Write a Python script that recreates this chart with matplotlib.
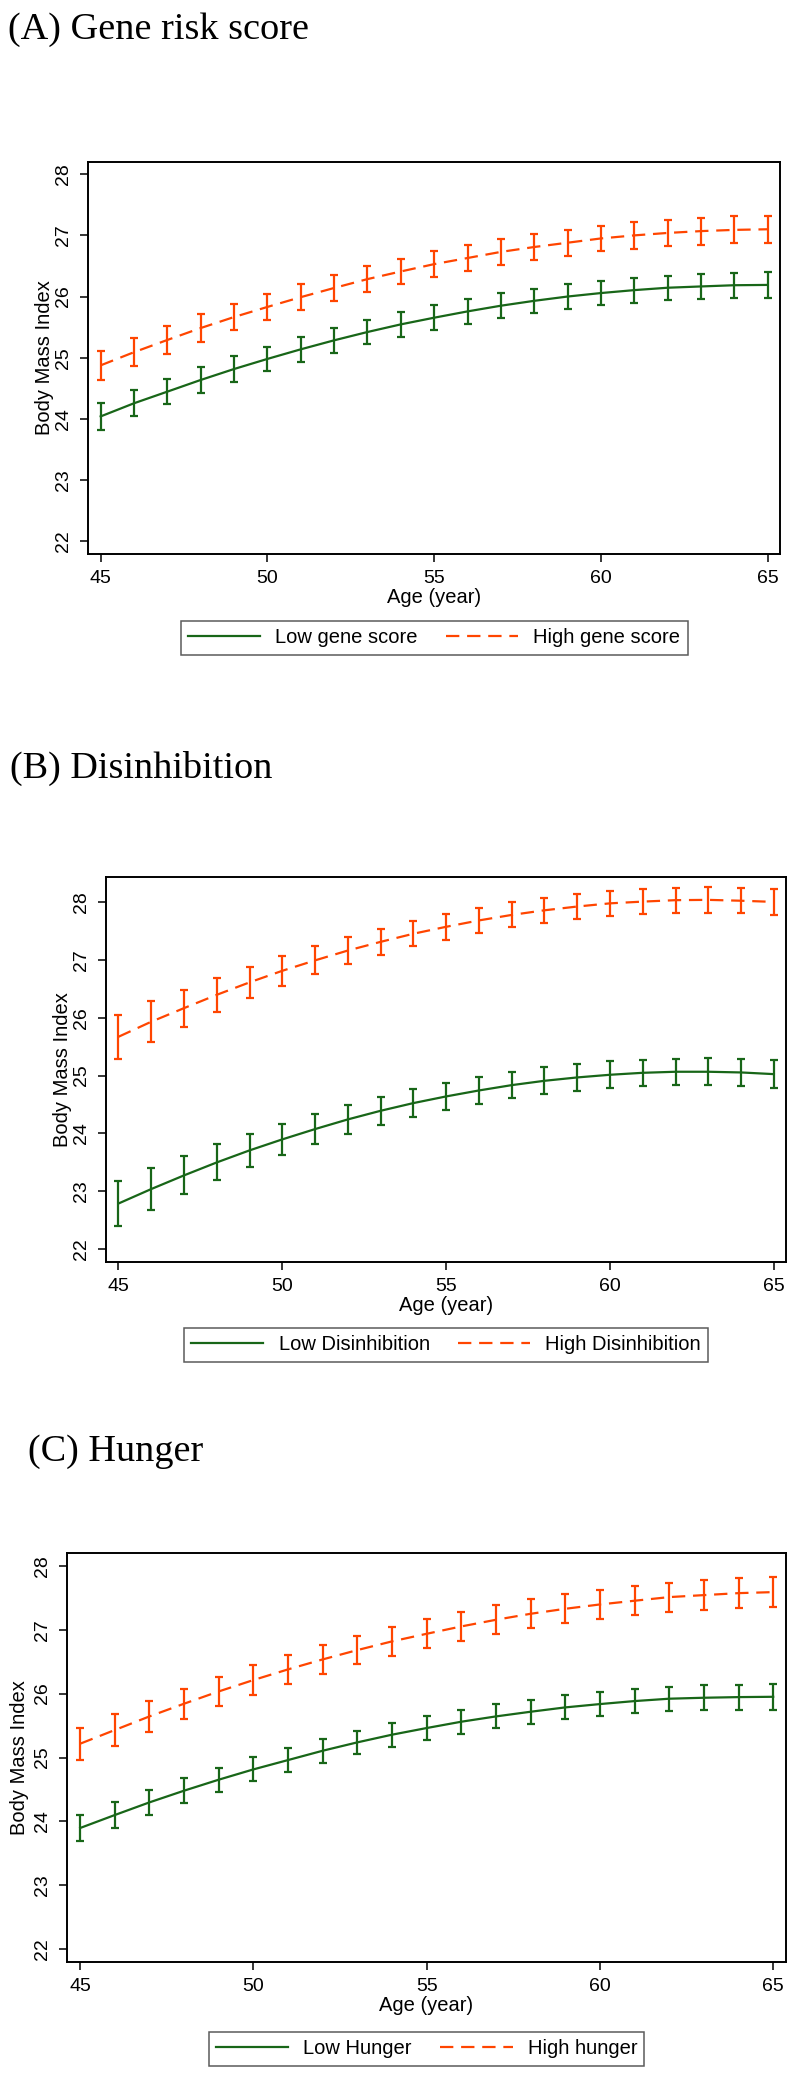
import numpy as np
import matplotlib
matplotlib.use("Agg")
import matplotlib.pyplot as plt

plt.rcParams['font.family'] = ['Liberation Sans', 'DejaVu Sans']

# ages on the x axis
age = np.arange(45, 66)

# (A) Gene risk score: predicted BMI and 95% CI half-width
gene_low = [24.04, 24.255, 24.445, 24.636, 24.815, 24.98, 25.137, 25.284, 25.42, 25.545, 25.654,
            25.757, 25.85, 25.93, 26.0, 26.057, 26.105, 26.144, 26.165, 26.185, 26.19]
gene_low_ci = [0.225, 0.215, 0.21, 0.21, 0.205, 0.2, 0.2, 0.2, 0.2, 0.2, 0.2,
               0.2, 0.2, 0.2, 0.2, 0.2, 0.205, 0.2, 0.2, 0.205, 0.21]
gene_high = [24.875, 25.09, 25.29, 25.485, 25.665, 25.83, 25.99, 26.14, 26.285, 26.41, 26.53,
             26.63, 26.73, 26.81, 26.88, 26.95, 27.0, 27.04, 27.07, 27.09, 27.1]
gene_high_ci = [0.24, 0.23, 0.225, 0.225, 0.22, 0.215, 0.21, 0.21, 0.215, 0.21, 0.215,
                0.21, 0.215, 0.21, 0.21, 0.21, 0.215, 0.215, 0.22, 0.22, 0.225]

# (B) Disinhibition
dis_low = [22.79, 23.04, 23.276, 23.5, 23.708, 23.898, 24.076, 24.243, 24.392, 24.525, 24.64,
           24.743, 24.835, 24.91, 24.968, 25.014, 25.048, 25.066, 25.066, 25.054, 25.025]
dis_low_ci = [0.39, 0.36, 0.33, 0.31, 0.29, 0.27, 0.26, 0.25, 0.245, 0.236, 0.236,
              0.236, 0.23, 0.23, 0.23, 0.23, 0.227, 0.227, 0.23, 0.233, 0.24]
dis_high = [25.67, 25.93, 26.165, 26.395, 26.61, 26.81, 26.99, 27.16, 27.31, 27.45, 27.57,
            27.68, 27.775, 27.855, 27.92, 27.975, 28.005, 28.03, 28.035, 28.02, 28.0]
dis_high_ci = [0.38, 0.35, 0.32, 0.29, 0.27, 0.256, 0.24, 0.233, 0.23, 0.22, 0.22,
               0.215, 0.215, 0.215, 0.215, 0.215, 0.215, 0.215, 0.22, 0.22, 0.225]

# (C) Hunger
hun_low = [23.897, 24.1, 24.298, 24.481, 24.653, 24.814, 24.96, 25.106, 25.237, 25.357, 25.461,
           25.56, 25.643, 25.716, 25.784, 25.836, 25.883, 25.92, 25.935, 25.945, 25.95]
hun_low_ci = [0.21, 0.203, 0.195, 0.193, 0.19, 0.188, 0.188, 0.185, 0.185, 0.185, 0.182,
              0.185, 0.188, 0.188, 0.188, 0.188, 0.19, 0.19, 0.193, 0.196, 0.2]
hun_high = [25.216, 25.43, 25.643, 25.842, 26.034, 26.212, 26.379, 26.535, 26.681, 26.817, 26.936,
            27.051, 27.155, 27.249, 27.327, 27.395, 27.453, 27.51, 27.541, 27.572, 27.588]
hun_high_ci = [0.25, 0.245, 0.237, 0.235, 0.232, 0.232, 0.227, 0.224, 0.222, 0.222, 0.224,
               0.227, 0.227, 0.227, 0.227, 0.224, 0.224, 0.227, 0.23, 0.232, 0.24]

titles = ['(A) Gene risk score', '(B) Disinhibition', '(C) Hunger']
low_labels = ['Low gene score', 'Low Disinhibition', 'Low Hunger']
high_labels = ['High gene score', 'High Disinhibition', 'High hunger']

green = '#186618'
orange = '#ff4500'

W, H = 800, 2080
fig = plt.figure(figsize=(W / 100, H / 100), dpi=100)


def px_axes(left, top, right, bottom):
    return fig.add_axes([left / W, 1 - bottom / H, (right - left) / W, (bottom - top) / H])


# pixel boxes of the three panels (left, top, right, bottom)
boxes = [(88, 162, 780, 554), (106, 877, 786, 1262), (67, 1553, 786, 1962)]
ylims = [(21.79, 28.2), (21.78, 28.43), (21.8, 28.2)]
ylab_x = [54, 72, 29]
title_pos = [(8, 30), (10, 768), (28, 1452)]
leg_off = [84, 83, 87]

panels = [(gene_low, gene_low_ci, gene_high, gene_high_ci),
          (dis_low, dis_low_ci, dis_high, dis_high_ci),
          (hun_low, hun_low_ci, hun_high, hun_high_ci)]

for i, (lo, lo_ci, hi, hi_ci) in enumerate(panels):
    l, t, r, b = boxes[i]
    ax = px_axes(l, t, r, b)
    hpx = b - t

    ax.errorbar(age, lo, yerr=lo_ci, fmt='none', ecolor=green, elinewidth=1.6,
                capsize=3.2, capthick=1.6)
    ax.errorbar(age, hi, yerr=hi_ci, fmt='none', ecolor=orange, elinewidth=1.6,
                capsize=3.2, capthick=1.6)
    ax.plot(age, lo, color=green, lw=1.6, label=low_labels[i])
    ax.plot(age, hi, color=orange, lw=1.6, linestyle=(0, (6, 3.5)), label=high_labels[i])

    ax.set_xlim(44.62, 65.37)
    ax.set_ylim(*ylims[i])
    ax.set_xticks([45, 50, 55, 60, 65])
    ax.set_yticks([22, 23, 24, 25, 26, 27, 28])
    ax.tick_params(direction='out', length=6, width=1.1, labelsize=14, pad=5.5)
    ax.tick_params(axis='y', labelrotation=90)
    for lab in ax.get_yticklabels():
        lab.set_va('center')
    for s in ax.spines.values():
        s.set_linewidth(1.4)

    ax.set_ylabel('Body Mass Index', fontsize=14.5)
    ax.yaxis.set_label_coords((ylab_x[i] - l) / (r - l), 0.5)
    ax.set_xlabel('Age (year)', fontsize=14.5)
    ax.xaxis.set_label_coords(0.5, -34 / hpx)

    leg = ax.legend(loc='center', bbox_to_anchor=(0.5, -leg_off[i] / hpx), ncol=2,
                    fontsize=14.5, frameon=True, fancybox=False, edgecolor='#333333',
                    handlelength=3.6, handletextpad=0.75, columnspacing=1.4,
                    borderpad=0.35, borderaxespad=0)
    leg.get_frame().set_linewidth(1.1)

    tx, ty = title_pos[i]
    fig.text(tx / W, 1 - ty / H, titles[i], family='Liberation Serif', fontsize=27.5,
             ha='left', va='center')

fig.savefig('out.png', dpi=100)
